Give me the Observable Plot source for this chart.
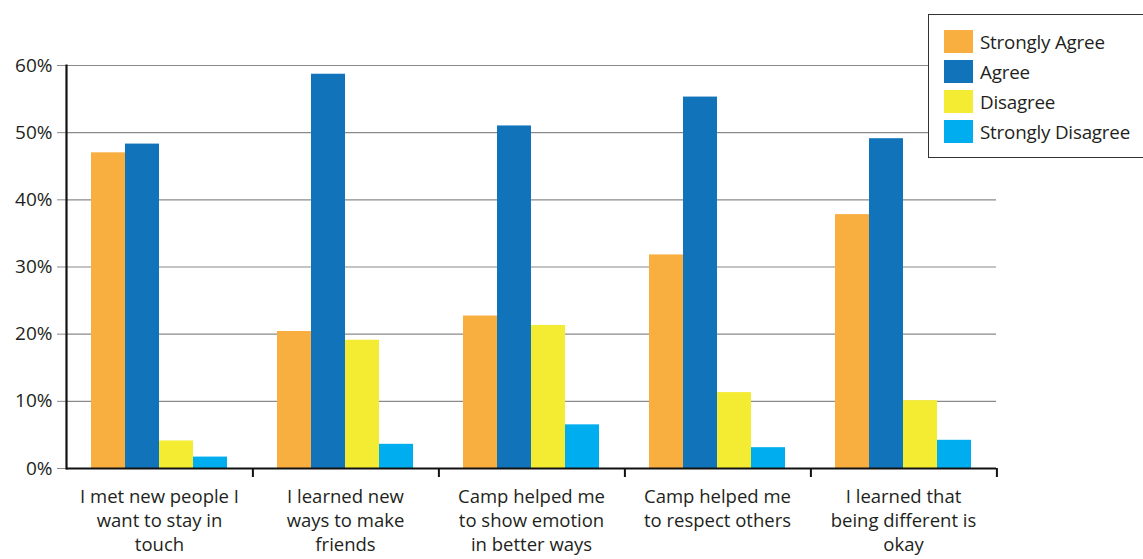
<!DOCTYPE html>
<html><head><meta charset="utf-8">
<script src="https://cdn.jsdelivr.net/npm/d3@7"></script>
<script src="https://cdn.jsdelivr.net/npm/@observablehq/plot@0.6"></script>
<style>
body{margin:0;background:#fff;font-family:"Open Sans",sans-serif;color:#231f20}
#wrap{position:relative;width:1143px;height:559px;overflow:hidden}
#legend{position:absolute;left:928px;top:14px;width:240px;height:144px;border:1.5px solid #333;background:#fff;box-sizing:border-box}
.item{position:absolute;left:15px;height:23px;display:flex;align-items:center;font-size:18.8px;letter-spacing:-0.2px;white-space:nowrap}
.sw{width:29px;height:23px;margin-right:7px}
</style></head>
<body><div id="wrap"><div id="chart"></div><div id="legend"></div></div>
<script>
const categories = ["I met new people I\nwant to stay in\ntouch","I learned new\nways to make\nfriends","Camp helped me\nto show emotion\nin better ways","Camp helped me\nto respect others","I learned that\nbeing different is\nokay"];
const series = ["Strongly Agree","Agree","Disagree","Strongly Disagree"];
const stronglyAgree = [47.0,20.4,22.7,31.8,37.8];
const agree = [48.3,58.7,51.0,55.3,49.1];
const disagree = [4.1,19.1,21.3,11.3,10.1];
const stronglyDisagree = [1.7,3.6,6.5,3.1,4.2];
const colors = ["#F9AE40","#1174BB","#F4EB33","#00AEEF"];
const yTicks = [0,10,20,30,40,50,60];

const valuesBySeries = [stronglyAgree, agree, disagree, stronglyDisagree];
const data = [];
categories.forEach((c,i)=>series.forEach((s,j)=>data.push({category:c, series:s, value:valuesBySeries[j][i]})));

const W = 1143, H = 559, ML = 64, MR = 145, MT = 65, MB = 91;
const band = (W - ML - MR) / categories.length;

const chart = Plot.plot({
  width: W, height: H,
  marginLeft: ML, marginRight: MR, marginTop: MT, marginBottom: MB,
  style: {fontFamily: "'Open Sans', sans-serif", color: "#231f20", background: "#fff"},
  fx: {domain: categories, padding: 0, label: null},
  x: {domain: series, paddingInner: 0, paddingOuter: 0.7, axis: null},
  y: {domain: [0,60], label: null},
  color: {domain: series, range: colors},
  marks: [
    Plot.gridY(yTicks, {stroke: "#8a8a8a", strokeOpacity: 1, strokeWidth: 1.2}),
    Plot.axisY(yTicks, {tickFormat: d => d + "%", tickSize: 9, tickPadding: 5, fontSize: 19, letterSpacing: -0.3, stroke: "#8a8a8a", label: null}),
    Plot.barY(data, {fx: "category", x: "series", y: "value", fill: "series"}),
    Plot.ruleY([0], {stroke: "#111", strokeWidth: 2.2}),
    Plot.frame({anchor: "left", facetAnchor: "left", stroke: "#111", strokeWidth: 2.2}),
    Plot.axisFx({anchor: "bottom", tickSize: 9, tickFormat: () => "", dx: band/2, stroke: "#111", strokeWidth: 2, label: null}),
    Plot.axisFx({anchor: "bottom", tickSize: 0, tickPadding: 17, fontSize: 18.5, letterSpacing: -0.2, lineHeight: 1.3, label: null})
  ]
});
document.getElementById("chart").appendChild(chart);

const lg = document.getElementById("legend");
series.forEach((s,j)=>{
  const it = document.createElement("div");
  it.className = "item";
  it.style.top = (15 + 30*j) + "px";
  it.innerHTML = `<div class="sw" style="background:${colors[j]}"></div><span>${s}</span>`;
  lg.appendChild(it);
});
</script></body></html>
